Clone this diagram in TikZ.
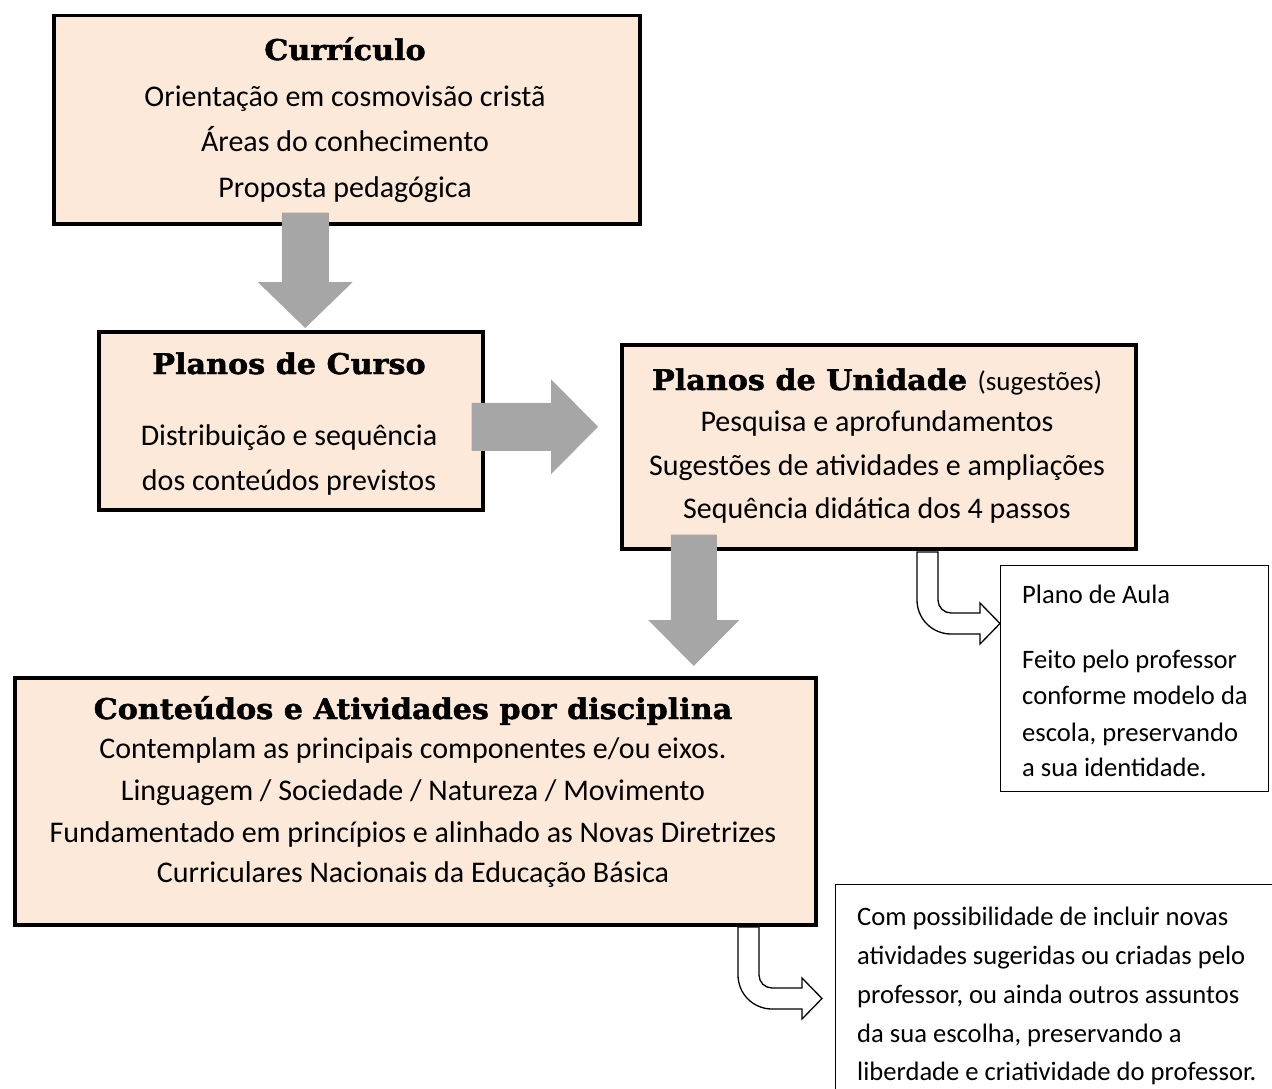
\documentclass[tikz,border=0pt]{standalone}
\usepackage{fontspec}
\setmainfont{Carlito}
\newfontfamily\titlefont[FakeStretch=1.06,FakeBold=1.6]{DejaVu Serif}
\usetikzlibrary{calc}
\definecolor{peach}{HTML}{FDE9D9}
\definecolor{arrowgray}{HTML}{A6A6A6}
\begin{document}
\begin{tikzpicture}[x=1pt,y=-1pt,
  bigbox/.style={draw=black, line width=3.5pt, fill=peach, anchor=north west, inner sep=0pt},
  smallbox/.style={draw=black, line width=1.3pt, fill=white, anchor=north west, inner sep=0pt},
  ttl/.style={font=\titlefont\bfseries\fontsize{28.5}{32}\selectfont, inner sep=0pt, anchor=base},
  body/.style={font=\fontsize{30}{36}\selectfont, inner sep=0pt, anchor=base},
  small/.style={font=\fontsize{26.6}{30}\selectfont, inner sep=0pt, anchor=base west},
  blockarrow/.style={fill=arrowgray, draw=none},
  bentarrow/.style={draw=black, line width=1.3pt, fill=white, line join=miter}
]
\useasboundingbox (0,0) rectangle (1272,1089);
\clip (0,0) rectangle (1272,1089);

% boxes
\node[bigbox, minimum width=586pt, minimum height=208pt] (cur) at (52,14) {};
\node[bigbox, minimum width=384pt, minimum height=178pt] (curso) at (97,330) {};
\node[bigbox, minimum width=514pt, minimum height=204pt] (unid) at (620,343) {};
\node[bigbox, minimum width=801pt, minimum height=247pt] (cont) at (13,676) {};
\node[smallbox, minimum width=268pt, minimum height=226pt] (aula) at (1000,565) {};
\node[smallbox, minimum width=460pt, minimum height=240pt] (livre) at (835,884) {};

% texts box 1
\node[ttl] (t1) at (345,60) {Currículo};
\node[body] (l11) at (345,107) {Orientação em cosmovisão cristã};
\node[body] (l12) at (345,152) {Áreas do conhecimento};
\node[body] (l13) at (345,197) {Proposta pedagógica};
% box 2
\node[ttl] (t2) at (289,374) {Planos de Curso};
\node[body] (l21) at (289,445) {Distribuição e sequência};
\node[body] (l22) at (289,490) {dos conteúdos previstos};
% box 3
\node[ttl] (t3) at (877,390) {Planos de Unidade {\rmfamily\mdseries\fontsize{27}{30}\selectfont(sugestões)}};
\node[body] (l31) at (877,431) {Pesquisa e aprofundamentos};
\node[body] (l32) at (877,475) {Sugestões de atividades e ampliações};
\node[body] (l33) at (877,518) {Sequência didática dos 4 passos};
% box 4
\node[ttl] (t4) at (413,719) {Conteúdos e Atividades por disciplina};
\node[body] (l41) at (413,758) {Contemplam as principais componentes e/ou eixos.};
\node[body] (l42) at (413,800) {Linguagem / Sociedade / Natureza / Movimento};
\node[body] (l43) at (413,842) {Fundamentado em princípios e alinhado as Novas Diretrizes};
\node[body] (l44) at (413,882) {Curriculares Nacionais da Educação Básica};
% plano de aula
\node[small] (a1) at (1022,603) {Plano de Aula};
\node[small] (a2) at (1022,668) {Feito pelo professor};
\node[small] (a3) at (1022,704) {conforme modelo da};
\node[small] (a4) at (1022,741) {escola, preservando};
\node[small] (a5) at (1022,776) {a sua identidade.};
% livre
\node[small] (b1) at (857,925) {Com possibilidade de incluir novas};
\node[small] (b2) at (857,964) {atividades sugeridas ou criadas pelo};
\node[small] (b3) at (857,1003) {professor, ou ainda outros assuntos};
\node[small] (b4) at (857,1042) {da sua escolha, preservando a};
\node[small] (b5) at (857,1080) {liberdade e criatividade do professor.};

% gray block arrows
\coordinate (g1s) at ($(cur.south)+(-41.5,-13)$);
\coordinate (g1e) at ($(curso.north)+(14.5,-2)$);
\fill[blockarrow] let \p1=(g1s), \p2=(g1e) in
  (\x2-23.5pt,\y1) -- (\x2+23.5pt,\y1) -- (\x2+23.5pt,\y2+46pt) -- (\x2+47.5pt,\y2+46pt)
  -- (\x2,\y2) -- (\x2-47.5pt,\y2+46pt) -- (\x2-23.5pt,\y2+46pt) -- cycle;

\coordinate (g2s) at ($(curso.east)+(-13,6)$);
\coordinate (g2e) at ($(unid.west)+(-22,-20)$);
\fill[blockarrow] let \p1=(g2s), \p2=(g2e) in
  (\x1,\y1+24pt) -- (\x2-47pt,\y1+24pt) -- (\x2-47pt,\y1+47.5pt) -- (\x2,\y1)
  -- (\x2-47pt,\y1-47.5pt) -- (\x2-47pt,\y1-24pt) -- (\x1,\y1-24pt) -- cycle;

\coordinate (g3s) at ($(unid.south)+(-185,-16)$);
\coordinate (g3e) at ($(cont.north)+(278.5,-10)$);
\fill[blockarrow] let \p1=(g3s), \p2=(g3e) in
  (\x2-23pt,\y1) -- (\x2+23pt,\y1) -- (\x2+23pt,\y2+46pt) -- (\x2+45.5pt,\y2+46pt)
  -- (\x2,\y2) -- (\x2-45.5pt,\y2+46pt) -- (\x2-23pt,\y2+46pt) -- cycle;

% bent arrows
\coordinate (h1) at ($(aula.north west)+(0,58.5)$);
\draw[bentarrow, shift={(h1)}]
  (-83,-71.5) -- (-83,-23.5) .. controls (-83,-4.7) and (-67.8,10.5) .. (-49,10.5)
  -- (-20,10.5) -- (-20,20.5) -- (0,0) -- (-20,-20.5) -- (-20,-10.5) -- (-49,-10.5)
  .. controls (-56.2,-10.5) and (-62,-16.3) .. (-62,-23.5) -- (-62,-71.5) -- cycle;

\coordinate (h2) at ($(livre.north west)+(-13,114.5)$);
\draw[bentarrow, shift={(h2)}]
  (-84,-71.5) -- (-84,-23.5) .. controls (-84,-4.7) and (-68.8,10.5) .. (-50,10.5)
  -- (-20,10.5) -- (-20,20.5) -- (0,0) -- (-20,-20.5) -- (-20,-10.5) -- (-50,-10.5)
  .. controls (-57.2,-10.5) and (-63,-16.3) .. (-63,-23.5) -- (-63,-71.5) -- cycle;
\end{tikzpicture}
\end{document}
